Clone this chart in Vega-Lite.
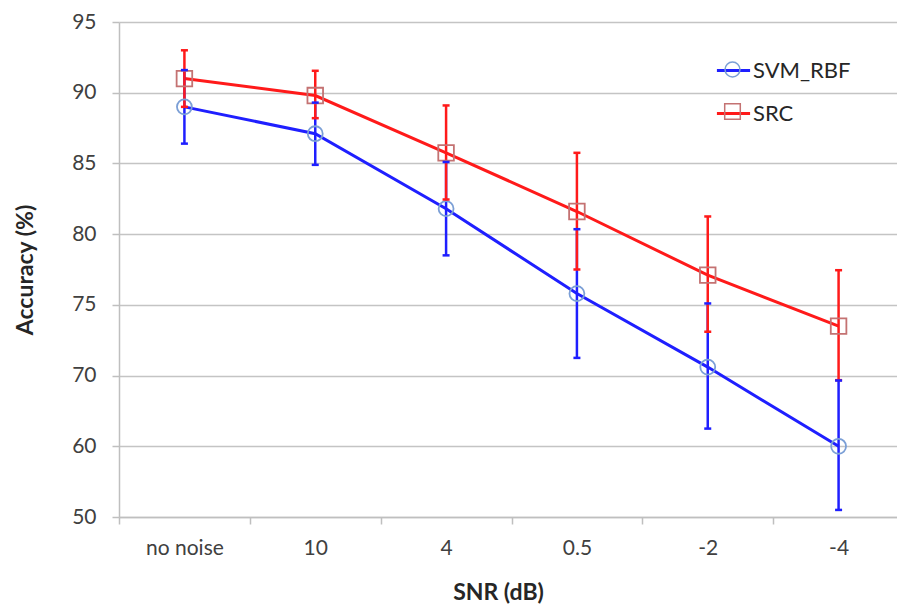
{
  "$schema": "https://vega.github.io/schema/vega-lite/v6.json",
  "width": 778,
  "height": 495,
  "autosize": {"type": "none"},
  "padding": {"left": 119, "top": 22, "right": 0, "bottom": 93},
  "background": "white",
  "config": {
    "view": {"stroke": null},
    "font": "Lato",
    "axis": {
      "labelFont": "Lato",
      "titleFont": "Lato",
      "labelColor": "#404040",
      "titleColor": "#262626",
      "domainColor": "#bfbfbf",
      "tickColor": "#bfbfbf",
      "domainWidth": 1.5,
      "tickWidth": 1.5
    },
    "legend": {"labelFont": "Lato"}
  },
  "data": {
    "values": [
      {"snr": "no noise", "series": "SVM_RBF", "acc": 89.0, "lo": 86.4, "hi": 91.6},
      {"snr": "10", "series": "SVM_RBF", "acc": 87.1, "lo": 84.9, "hi": 89.3},
      {"snr": "4", "series": "SVM_RBF", "acc": 81.8, "lo": 78.5, "hi": 85.1},
      {"snr": "0.5", "series": "SVM_RBF", "acc": 75.8, "lo": 71.25, "hi": 80.35},
      {"snr": "-2", "series": "SVM_RBF", "acc": 70.6, "lo": 62.5, "hi": 75.1},
      {"snr": "-4", "series": "SVM_RBF", "acc": 60.0, "lo": 51.0, "hi": 69.3},
      {"snr": "no noise", "series": "SRC", "acc": 91.0, "lo": 89.0, "hi": 93.0},
      {"snr": "10", "series": "SRC", "acc": 89.8, "lo": 88.2, "hi": 91.55},
      {"snr": "4", "series": "SRC", "acc": 85.75, "lo": 82.45, "hi": 89.1},
      {"snr": "0.5", "series": "SRC", "acc": 81.6, "lo": 77.5, "hi": 85.75},
      {"snr": "-2", "series": "SRC", "acc": 77.1, "lo": 73.1, "hi": 81.25},
      {"snr": "-4", "series": "SRC", "acc": 73.5, "lo": 69.35, "hi": 77.45}
    ]
  },
  "encoding": {
    "x": {
      "field": "snr",
      "type": "nominal",
      "sort": ["no noise", "10", "4", "0.5", "-2", "-4"],
      "scale": {"type": "band", "range": [0, 785], "paddingInner": 0, "paddingOuter": 0},
      "axis": {
        "title": "SNR (dB)",
        "titleFontSize": 23,
        "titleFontWeight": "bold",
        "titleX": 379,
        "titlePadding": 23,
        "labelFontSize": 21,
        "labelAngle": 0,
        "labelPadding": 13,
        "tickBand": "extent",
        "tickSize": 7,
        "grid": false
      }
    }
  },
  "layer": [
    {
      "mark": {"type": "line", "strokeWidth": 3},
      "encoding": {
        "y": {
          "field": "acc",
          "type": "quantitative",
          "scale": {"domain": [50, 70, 95], "range": [495, 353.571, 0], "zero": false, "nice": false},
          "axis": {
            "title": "Accuracy (%)",
            "titleFontSize": 23,
            "titleFontWeight": "bold",
            "titlePadding": 34,
            "values": [50, 60, 70, 75, 80, 85, 90, 95],
            "labelFontSize": 21,
            "labelPadding": 16,
            "tickSize": 7,
            "grid": true,
            "gridColor": "#c4c4c4",
            "gridWidth": 1.4,
            "domain": true
          }
        },
        "color": {
          "field": "series",
          "type": "nominal",
          "sort": ["SVM_RBF", "SRC"],
          "scale": {"range": ["#1f1fff", "#ff1a1a"]},
          "legend": {
            "title": null,
            "orient": "none",
            "legendX": 596,
            "legendY": 30,
            "padding": 0,
            "symbolType": "stroke",
            "symbolSize": 1100,
            "symbolStrokeWidth": 3,
            "labelFontSize": 22,
            "labelColor": "#262626",
            "labelOffset": 1,
            "rowPadding": 13
          }
        }
      }
    },
    {
      "mark": {"type": "rule", "strokeWidth": 2.5},
      "encoding": {
        "y": {"field": "lo", "type": "quantitative"},
        "y2": {"field": "hi"},
        "color": {"field": "series", "type": "nominal", "sort": ["SVM_RBF", "SRC"], "legend": null}
      }
    },
    {
      "mark": {"type": "point", "filled": false, "size": 1100, "strokeWidth": 1.8, "opacity": 1},
      "encoding": {
        "y": {"field": "acc", "type": "quantitative"},
        "stroke": {
          "field": "series",
          "type": "nominal",
          "scale": {"domain": ["SVM_RBF", "SRC"], "range": ["#7b9fd6", "#c47272"]},
          "legend": {
            "title": null,
            "orient": "none",
            "legendX": 596,
            "legendY": 30,
            "padding": 0,
            "symbolSize": 1100,
            "symbolStrokeWidth": 1.5,
            "symbolFillColor": "transparent",
            "labelFontSize": 22,
            "labelExpr": "''",
            "labelOffset": 1,
            "rowPadding": 13
          }
        },
        "shape": {
          "field": "series",
          "type": "nominal",
          "scale": {
            "domain": ["SVM_RBF", "SRC"],
            "range": [
              "M0.45,0A0.45,0.45,0,1,1,-0.45,0A0.45,0.45,0,1,1,0.45,0Z",
              "M-0.47,-0.47L0.47,-0.47L0.47,0.47L-0.47,0.47Z"
            ]
          },
          "legend": {
            "title": null,
            "orient": "none",
            "legendX": 596,
            "legendY": 30,
            "padding": 0,
            "symbolSize": 1100,
            "symbolStrokeWidth": 1.5,
            "symbolFillColor": "transparent",
            "labelFontSize": 22,
            "labelExpr": "''",
            "labelOffset": 1,
            "rowPadding": 13
          }
        }
      }
    },
    {
      "mark": {"type": "point", "filled": false, "shape": "M-1,0L1,0", "size": 49, "strokeWidth": 2.5, "opacity": 1},
      "encoding": {
        "y": {"field": "lo", "type": "quantitative"},
        "color": {"field": "series", "type": "nominal", "sort": ["SVM_RBF", "SRC"], "legend": null}
      }
    },
    {
      "mark": {"type": "point", "filled": false, "shape": "M-1,0L1,0", "size": 49, "strokeWidth": 2.5, "opacity": 1},
      "encoding": {
        "y": {"field": "hi", "type": "quantitative"},
        "color": {"field": "series", "type": "nominal", "sort": ["SVM_RBF", "SRC"], "legend": null}
      }
    }
  ]
}
